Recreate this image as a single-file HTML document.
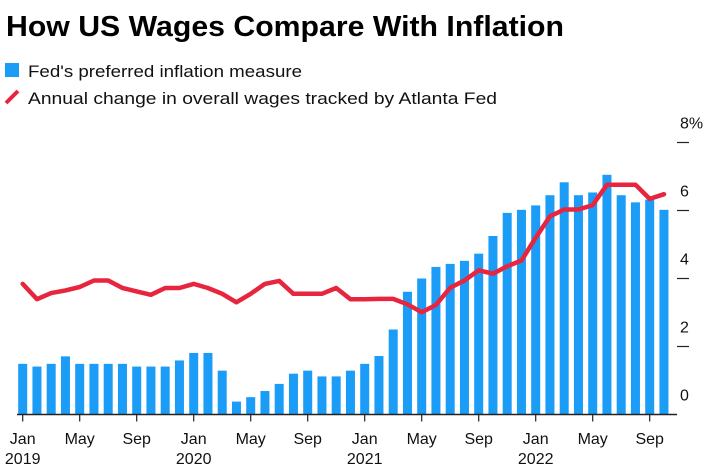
<!DOCTYPE html>
<html><head><meta charset="utf-8"><style>
html,body{margin:0;padding:0;background:#fff;}
svg{display:block;font-family:"Liberation Sans",Arial,sans-serif;}
</style></head><body>
<svg id="chart" width="712" height="475" viewBox="0 0 712 475">
<text x="6" y="36" font-size="29" font-weight="bold" fill="#000" textLength="558" lengthAdjust="spacingAndGlyphs">How US Wages Compare With Inflation</text>
<g>
<rect x="5" y="63" width="14" height="14" fill="#1a9cf7"/>
<text x="28" y="77" font-size="17" fill="#111" textLength="274" lengthAdjust="spacingAndGlyphs">Fed's preferred inflation measure</text>
<line x1="6" y1="103" x2="18" y2="91" stroke="#e8253f" stroke-width="4"/>
<text x="28" y="104" font-size="17" fill="#111" textLength="469" lengthAdjust="spacingAndGlyphs">Annual change in overall wages tracked by Atlanta Fed</text>
</g>
<g id="plot"></g>
</svg>
<script>
const months = ["Jan 2019","Feb 2019","Mar 2019","Apr 2019","May 2019","Jun 2019","Jul 2019","Aug 2019","Sep 2019","Oct 2019","Nov 2019","Dec 2019","Jan 2020","Feb 2020","Mar 2020","Apr 2020","May 2020","Jun 2020","Jul 2020","Aug 2020","Sep 2020","Oct 2020","Nov 2020","Dec 2020","Jan 2021","Feb 2021","Mar 2021","Apr 2021","May 2021","Jun 2021","Jul 2021","Aug 2021","Sep 2021","Oct 2021","Nov 2021","Dec 2021","Jan 2022","Feb 2022","Mar 2022","Apr 2022","May 2022","Jun 2022","Jul 2022","Aug 2022","Sep 2022","Oct 2022"];
const inflation = [1.49,1.41,1.49,1.71,1.49,1.49,1.49,1.49,1.41,1.41,1.41,1.59,1.81,1.81,1.29,0.38,0.51,0.69,0.90,1.20,1.29,1.12,1.12,1.29,1.49,1.72,2.50,3.61,4.00,4.34,4.43,4.52,4.73,5.25,5.93,6.02,6.15,6.45,6.83,6.45,6.53,7.05,6.45,6.24,6.32,6.02];
const wages = [3.84,3.39,3.57,3.65,3.75,3.94,3.94,3.72,3.62,3.52,3.72,3.72,3.84,3.72,3.55,3.30,3.55,3.84,3.93,3.55,3.55,3.55,3.72,3.39,3.39,3.40,3.40,3.24,3.01,3.22,3.73,3.94,4.24,4.14,4.36,4.53,5.20,5.83,6.03,6.03,6.16,6.76,6.76,6.76,6.34,6.48];
const yTicks = [0,2,4,6,8];
const yTickLabels = ["0","2","4","6","8%"];
const xTickIdx = [0,4,8,12,16,20,24,28,32,36,40,44];
const xTickMonth = ["Jan","May","Sep","Jan","May","Sep","Jan","May","Sep","Jan","May","Sep"];
const xTickYear = ["2019","","","2020","","","2021","","","2022","",""];

const NS="http://www.w3.org/2000/svg";
const plot=document.getElementById('plot');
const x0=22.7, dx=14.25, y0=414.5, ky=34;
const X=i=>x0+i*dx;
const Y=v=>y0-v*ky;
function mk(t,a){const e=document.createElementNS(NS,t);for(const k in a)e.setAttribute(k,a[k]);plot.appendChild(e);return e;}

inflation.forEach((v,i)=>{
  const r=mk('rect',{x:X(i)-4.5,y:Y(v),width:9,height:y0-Y(v),fill:'#1a9cf7'});
  
  
});
const bl=mk('line',{x1:17,y1:y0,x2:677,y2:y0,stroke:'#222','stroke-width':1.5});



const pts=wages.map((v,i)=>X(i).toFixed(1)+','+Y(v).toFixed(1)).join(' ');
const pl=mk('polyline',{points:pts,fill:'none',stroke:'#e8253f','stroke-width':4.5,'stroke-linejoin':'round','stroke-linecap':'round'});



yTicks.forEach((v,i)=>{
  if(v>0){
    const t=mk('line',{x1:677,y1:Y(v),x2:689,y2:Y(v),stroke:'#222','stroke-width':1.2});
    
    
  }
  const l=mk('text',{x:680,y:Y(v)-14,'font-size':16,fill:'#111'});
  l.textContent=yTickLabels[i];
  
  
});

xTickIdx.forEach((m,i)=>{
  const t=mk('line',{x1:X(m),y1:y0,x2:X(m),y2:y0+7,stroke:'#222','stroke-width':1.2});
  
  
  const l=mk('text',{x:X(m),y:444,'font-size':16,fill:'#111','text-anchor':'middle'});
  l.textContent=xTickMonth[i];
  
  
  if(xTickYear[i]){
    const yl=mk('text',{x:X(m),y:464,'font-size':16,fill:'#111','text-anchor':'middle'});
    yl.textContent=xTickYear[i];
    
    
  }
});
</script>
</body></html>
